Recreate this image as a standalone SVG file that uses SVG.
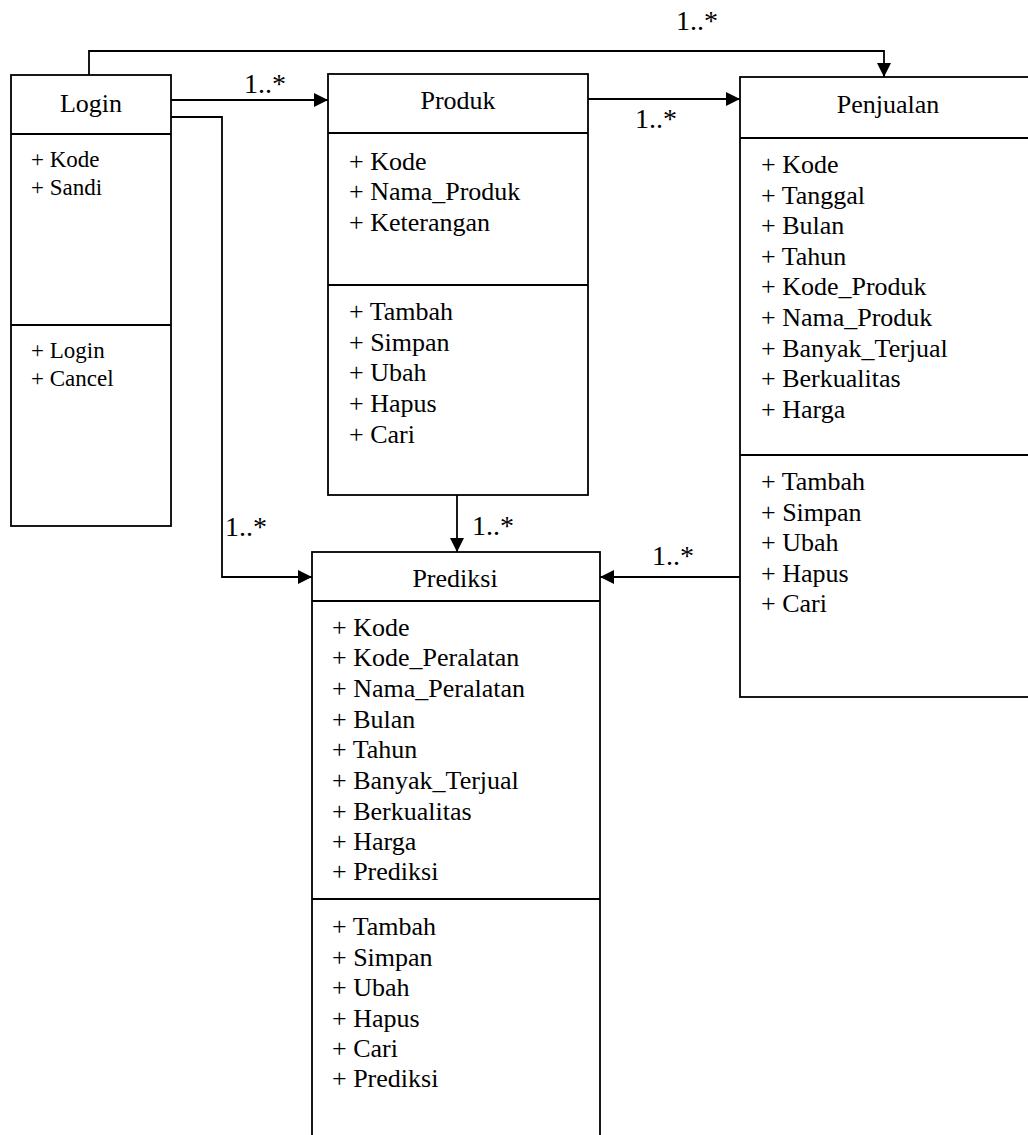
<svg xmlns="http://www.w3.org/2000/svg" width="1028" height="1135" viewBox="0 0 1028 1135" font-family="Liberation Serif, Times New Roman, serif">
<style>
.box{fill:#fff;stroke:#000;stroke-width:1.8}
.div{stroke:#000;stroke-width:1.8}
text{font-family:"Liberation Serif","Times New Roman",serif;fill:#000}
.hd{font-size:26px;text-anchor:middle}
.it{font-size:26px}
.its{font-size:23px}
.lbl{font-size:28px}
.con{fill:none;stroke:#000;stroke-width:1.8}
</style>
<defs>
<marker id="ah" viewBox="0 0 14 14" refX="14" refY="7" markerWidth="14" markerHeight="14" markerUnits="userSpaceOnUse" orient="auto">
<path d="M0,0 L14,7 L0,14 Z" fill="#000"/>
</marker>
</defs>
<rect width="1028" height="1135" fill="#fff"/>

<g id="connectors">
<path class="con" d="M89,75 V51 H884 V77" marker-end="url(#ah)"/>
<path class="con" d="M171,100 H328" marker-end="url(#ah)"/>
<path class="con" d="M171,117 H222 V577 H312" marker-end="url(#ah)"/>
<path class="con" d="M588,99 H740" marker-end="url(#ah)"/>
<path class="con" d="M457,495 V552" marker-end="url(#ah)"/>
<path class="con" d="M740,577 H600" marker-end="url(#ah)"/>
<text class="lbl" x="676" y="30">1..*</text>
<text class="lbl" x="244" y="93">1..*</text>
<text class="lbl" x="635" y="128">1..*</text>
<text class="lbl" x="225" y="536">1..*</text>
<text class="lbl" x="472" y="535">1..*</text>
<text class="lbl" x="652" y="565">1..*</text>
</g>

<g id="login">
<rect class="box" x="11" y="75" width="160" height="451"/>
<line class="div" x1="11" y1="134" x2="171" y2="134"/>
<line class="div" x1="11" y1="325" x2="171" y2="325"/>
<text class="hd" x="91" y="112">Login</text>
<text class="its" x="31" y="167">+ Kode</text>
<text class="its" x="31" y="195">+ Sandi</text>
<text class="its" x="31" y="358">+ Login</text>
<text class="its" x="31" y="386">+ Cancel</text>
</g>

<g id="produk">
<rect class="box" x="328" y="74" width="260" height="421"/>
<line class="div" x1="328" y1="133" x2="588" y2="133"/>
<line class="div" x1="328" y1="285" x2="588" y2="285"/>
<text class="hd" x="458" y="109">Produk</text>
<text class="it" x="349" y="170">+ Kode</text>
<text class="it" x="349" y="200">+ Nama_Produk</text>
<text class="it" x="349" y="231">+ Keterangan</text>
<text class="it" x="349" y="320">+ Tambah</text>
<text class="it" x="349" y="351">+ Simpan</text>
<text class="it" x="349" y="381">+ Ubah</text>
<text class="it" x="349" y="412">+ Hapus</text>
<text class="it" x="349" y="443">+ Cari</text>
</g>

<g id="penjualan">
<rect class="box" x="740" y="77" width="300" height="620"/>
<line class="div" x1="740" y1="138" x2="1040" y2="138"/>
<line class="div" x1="740" y1="455" x2="1040" y2="455"/>
<text class="hd" x="888" y="113">Penjualan</text>
<text class="it" x="761" y="173">+ Kode</text>
<text class="it" x="761" y="204">+ Tanggal</text>
<text class="it" x="761" y="234">+ Bulan</text>
<text class="it" x="761" y="265">+ Tahun</text>
<text class="it" x="761" y="295">+ Kode_Produk</text>
<text class="it" x="761" y="326">+ Nama_Produk</text>
<text class="it" x="761" y="357">+ Banyak_Terjual</text>
<text class="it" x="761" y="387">+ Berkualitas</text>
<text class="it" x="761" y="418">+ Harga</text>
<text class="it" x="761" y="490">+ Tambah</text>
<text class="it" x="761" y="521">+ Simpan</text>
<text class="it" x="761" y="551">+ Ubah</text>
<text class="it" x="761" y="582">+ Hapus</text>
<text class="it" x="761" y="612">+ Cari</text>
</g>

<g id="prediksi">
<rect class="box" x="312" y="552" width="288" height="600"/>
<line class="div" x1="312" y1="601" x2="600" y2="601"/>
<line class="div" x1="312" y1="899" x2="600" y2="899"/>
<text class="hd" x="455" y="587">Prediksi</text>
<text class="it" x="332" y="636">+ Kode</text>
<text class="it" x="332" y="666">+ Kode_Peralatan</text>
<text class="it" x="332" y="697">+ Nama_Peralatan</text>
<text class="it" x="332" y="728">+ Bulan</text>
<text class="it" x="332" y="758">+ Tahun</text>
<text class="it" x="332" y="789">+ Banyak_Terjual</text>
<text class="it" x="332" y="820">+ Berkualitas</text>
<text class="it" x="332" y="850">+ Harga</text>
<text class="it" x="332" y="880">+ Prediksi</text>
<text class="it" x="332" y="935">+ Tambah</text>
<text class="it" x="332" y="966">+ Simpan</text>
<text class="it" x="332" y="996">+ Ubah</text>
<text class="it" x="332" y="1027">+ Hapus</text>
<text class="it" x="332" y="1057">+ Cari</text>
<text class="it" x="332" y="1087">+ Prediksi</text>
</g>
</svg>
